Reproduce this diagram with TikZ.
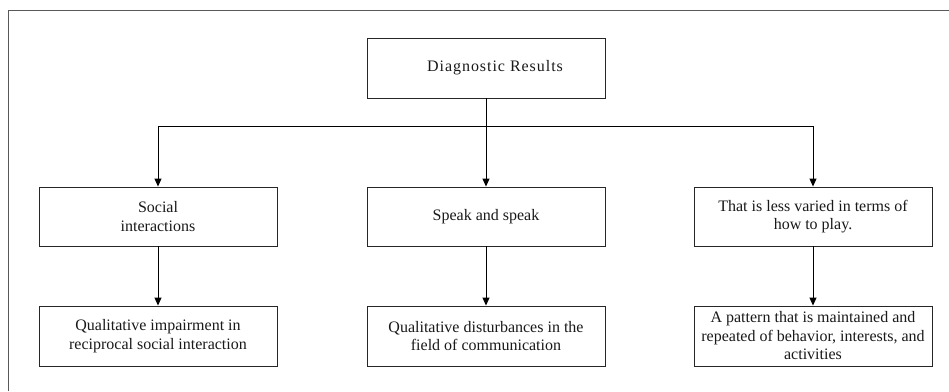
\documentclass[tikz,border=0pt]{standalone}
\usepackage{fontspec}
\setmainfont{Liberation Serif}
\usetikzlibrary{arrows.meta}
\begin{document}
\begin{tikzpicture}[x=1bp,y=-1bp,
  box/.style={draw=black!85, line width=0.9bp, minimum width=238bp, minimum height=59bp,
    inner sep=2bp, align=center, font=\fontsize{16bp}{18.5bp}\selectfont, text=black!90},
  link/.style={draw=black, line width=0.9bp},
  arrow/.style={link, -{Triangle[width=7bp,length=8bp]}}]
  \useasboundingbox (0,0) rectangle (949,391);
  % open frame: only its top and left sides fall inside the page
  \draw[black!65, line width=1bp] (8,391) -- (8,10) -- (949,10);

  \node[box, minimum height=60bp] (top) at (486,68)
    {\hspace*{18bp}\addfontfeature{LetterSpace=6}Diagnostic Results};

  \node[box] (b1) at (158,216.5) {Social\\interactions};
  \node[box] (b2) at (486,216.5) {Speak and speak};
  \node[box] (b3) at (813,216.5) {That is less varied in terms of\\how to play.};

  \node[box, minimum height=60bp] (c1) at (158,336) {Qualitative impairment in\\reciprocal social interaction};
  \node[box, minimum height=60bp] (c2) at (486,336) {Qualitative disturbances in the\\field of communication};
  \node[box, minimum height=60bp] (c3) at (813,336) {A pattern that is maintained and\\repeated of behavior, interests, and\\activities};

  \coordinate (split) at (486,126);
  \draw[arrow] (top) -- (b2);
  \draw[arrow] (split) -| (b1);
  \draw[arrow] (split) -| (b3);
  \draw[arrow] (b1) -- (c1);
  \draw[arrow] (b2) -- (c2);
  \draw[arrow] (b3) -- (c3);
\end{tikzpicture}
\end{document}
